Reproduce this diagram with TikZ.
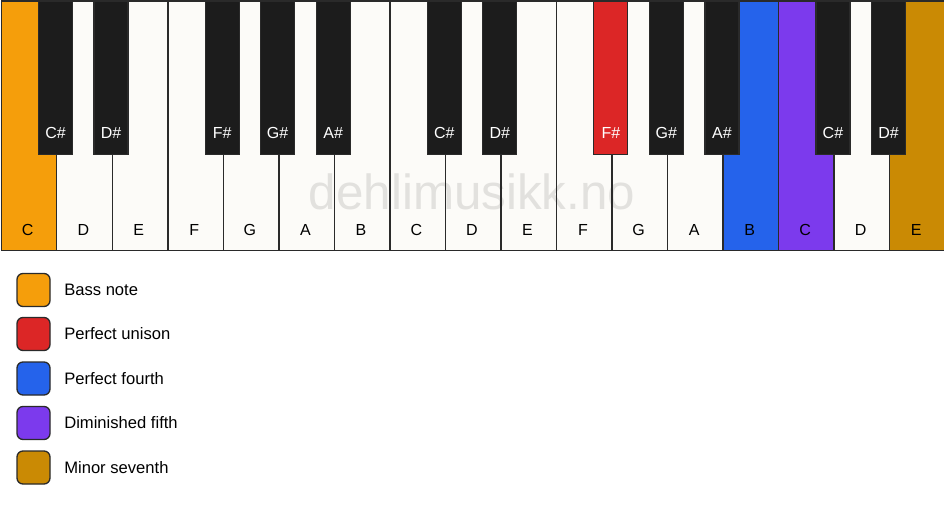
\documentclass[tikz,border=0pt]{standalone}
\usepackage{fontspec}
\setmainfont{Liberation Sans}
\definecolor{whitekey}{HTML}{FCFBF8}
\definecolor{blackkey}{HTML}{1C1C1C}
\definecolor{keyline}{HTML}{2A2A2A}
\definecolor{bassc}{HTML}{F59E0B}
\definecolor{unisonc}{HTML}{DC2626}
\definecolor{fourthc}{HTML}{2563EB}
\definecolor{dimfifthc}{HTML}{7C3AED}
\definecolor{minsevc}{HTML}{CA8A04}
\definecolor{wmark}{HTML}{E2E1DE}
\tikzset{
  wkey/.style={draw=keyline, line width=1.1pt, minimum width=55.53*0.75pt, minimum height=249*0.75pt, inner sep=0pt, anchor=north west},
  bkey/.style={fill=blackkey, draw=keyline, line width=0.9pt, minimum width=34*0.75pt, minimum height=153*0.75pt, inner sep=0pt, anchor=north},
  wlabel/.style={font=\fontsize{12pt}{14pt}\selectfont, text=black},
  blabel/.style={font=\fontsize{12pt}{14pt}\selectfont, text=white},
  legbox/.style={draw=keyline, line width=1pt, rounded corners=4.5pt, minimum width=33*0.75pt, minimum height=33*0.75pt, inner sep=0pt},
  legtext/.style={font=\fontsize{12.45pt}{14pt}\selectfont, anchor=west, inner sep=0pt}
}
\begin{document}
\begin{tikzpicture}[x=0.75pt, y=-0.75pt]
\useasboundingbox[fill=white] (0,0) rectangle (944,506);
% white key fills
\foreach \i/\n/\c in {0/C/bassc,1/D/whitekey,2/E/whitekey,3/F/whitekey,4/G/whitekey,5/A/whitekey,6/B/whitekey,7/C/whitekey,8/D/whitekey,9/E/whitekey,10/F/whitekey,11/G/whitekey,12/A/whitekey,13/B/fourthc,14/C/dimfifthc,15/D/whitekey,16/E/minsevc}{
  \node[wkey, fill=\c, draw=none] (w\i) at ({\i*55.53+0.5},0.5) {};
}
% watermark
\node[text=wmark, font=\fontsize{37pt}{42pt}\selectfont] (wm) at (472,192) {dehlimusikk.no};
% white key borders and labels
\foreach \i/\n in {0/C,1/D,2/E,3/F,4/G,5/A,6/B,7/C,8/D,9/E,10/F,11/G,12/A,13/B,14/C,15/D,16/E}{
  \node[wkey, fill=none] (wb\i) at ({\i*55.53+0.5},0.5) {};
  \node[wlabel] (wl\i) at ({\i*55.53+27.76},230) {\n};
}
% black keys
\foreach \b/\n/\c in {1/C\#/blackkey,2/D\#/blackkey,4/F\#/blackkey,5/G\#/blackkey,6/A\#/blackkey,8/C\#/blackkey,9/D\#/blackkey,11/F\#/unisonc,12/G\#/blackkey,13/A\#/blackkey,15/C\#/blackkey,16/D\#/blackkey}{
  \node[bkey, fill=\c] (b\b) at ({\b*55.53},0.5) {};
  \node[blabel] (bl\b) at ({\b*55.53},133) {\n};
}
% legend
\node[legbox, fill=bassc] (l1) at (33.5,290) {};
\node[legtext] (t1) at (64,290) {Bass note};
\node[legbox, fill=unisonc] (l2) at (33.5,334) {};
\node[legtext] (t2) at (64,334) {Perfect unison};
\node[legbox, fill=fourthc] (l3) at (33.5,378.5) {};
\node[legtext] (t3) at (64,378.5) {Perfect fourth};
\node[legbox, fill=dimfifthc] (l4) at (33.5,423) {};
\node[legtext] (t4) at (64,423) {Diminished fifth};
\node[legbox, fill=minsevc] (l5) at (33.5,467.5) {};
\node[legtext] (t5) at (64,467.5) {Minor seventh};
\end{tikzpicture}
\end{document}
